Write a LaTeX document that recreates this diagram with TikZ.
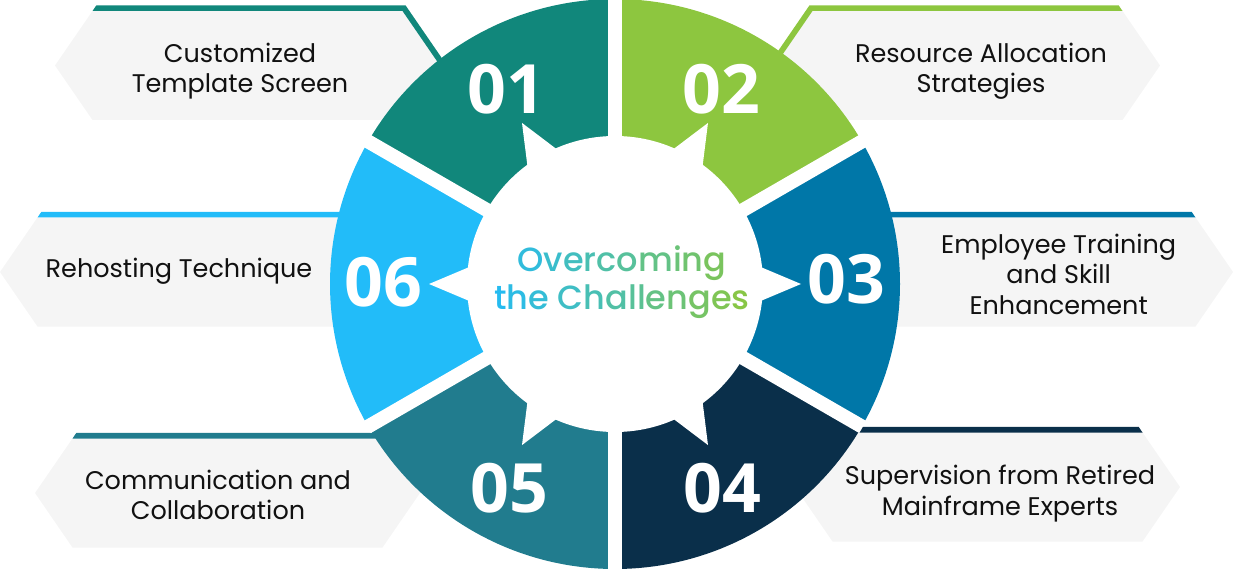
\documentclass[tikz,border=0pt]{standalone}
\usepackage{fontspec}
\setmainfont{Poppins}
\newfontfamily\numfont{Open Sans}
\IfFontExistsTF{Poppins Medium}
  {\newfontfamily\titlefont{Poppins Medium}}
  {\newfontfamily\titlefont[FakeBold=0.5]{Poppins}}
\definecolor{cA}{HTML}{11877B}
\definecolor{cB}{HTML}{8DC63F}
\definecolor{cC}{HTML}{0077A8}
\definecolor{cD}{HTML}{0A2F4A}
\definecolor{cE}{HTML}{217C8E}
\definecolor{cF}{HTML}{22BCF9}
\definecolor{boxgray}{HTML}{F5F5F5}
\definecolor{gstart}{HTML}{22BBF6}
\definecolor{gend}{HTML}{8CC63F}
\definecolor{txt}{HTML}{111111}
\newcommand\gc[2]{\textcolor{gend!#1!gstart}{#2}}
\newcommand\hexbox[2]{\fill[boxgray] (#1,#2) -- ++(37.5,-54.5) -- ++(310,0) -- ++(37.5,54.5) -- ++(-37.5,54.5) -- ++(-310,0) -- cycle;}
\tikzset{
  labeltext/.style={align=center, text=txt, font=\fontsize{25.5}{30.3}\selectfont, inner sep=0pt},
  numtext/.style={text=white, font=\numfont\bfseries\fontsize{68}{70}\selectfont, inner sep=0pt},
  gapline/.style={white, line width=14}
}
\begin{document}
\begin{tikzpicture}[x=1pt,y=-1pt]
\useasboundingbox (0,0) rectangle (1233,569);
\coordinate (c) at (615,284);
% label boxes
\hexbox{55}{65.5}
\hexbox{775}{65.5}
\hexbox{848}{272}
\hexbox{795}{487}
\hexbox{35}{493}
\hexbox{0}{272}
% coloured top lines
\fill[cA] (92.5,11) -- (96.4,5.3) -- (405.5,5.3) -- (448.6,68) -- (445.6,73.7) -- (402.5,11) -- cycle;
\fill[cB] (1122.5,11) -- (1118.6,5.3) -- (809.5,5.3) -- (766.4,68) -- (769.4,73.7) -- (812.5,11) -- cycle;
\fill[cC] (880,217.5) -- (880,211.8) -- (1191.6,211.8) -- (1195.5,217.5) -- cycle;
\fill[cD] (840,432.5) -- (840,426.8) -- (1138.6,426.8) -- (1142.5,432.5) -- cycle;
\fill[cE] (76.4,432.8) -- (72.5,438.5) -- (385,438.5) -- (385,432.8) -- cycle;
\fill[cF] (41.4,211.8) -- (37.5,217.5) -- (350,217.5) -- (350,211.8) -- cycle;
% ring segments
\fill[cA] (c) -- +(-150:285) arc[start angle=-150, end angle=-90, radius=285] -- cycle;
\fill[cB] (c) -- +(-90:285) arc[start angle=-90, end angle=-30, radius=285] -- cycle;
\fill[cC] (c) -- +(-30:285) arc[start angle=-30, end angle=30, radius=285] -- cycle;
\fill[cD] (c) -- +(30:285) arc[start angle=30, end angle=90, radius=285] -- cycle;
\fill[cE] (c) -- +(90:285) arc[start angle=90, end angle=150, radius=285] -- cycle;
\fill[cF] (c) -- +(150:285) arc[start angle=150, end angle=210, radius=285] -- cycle;
\foreach \a in {-150,-90,-30,30,90,150} \draw[gapline] (c) -- +(\a:286);
% white centre with pointers
\fill[white] (c) circle[radius=148];
\foreach \a in {0,60,120,180,240,300}
  \fill[white, shift={(c)}] (\a-6.8:146) -- (\a:186) -- (\a+6.8:146) -- cycle;
% numbers
\node[numtext] (n1) at (506.3,88.7) {01};
\node[numtext] (n2) at (721.7,88.7) {02};
\node[numtext] (n3) at (846,279.5) {03};
\node[numtext] (n4) at (722,488.3) {04};
\node[numtext] (n5) at (509,488.3) {05};
\node[numtext] (n6) at (383.3,282.5) {06};
% labels
\node[labeltext] (t1) at (240,71.4) {Customized\\Template Screen};
\node[labeltext] (t2) at (981,70.9) {Resource Allocation\\Strategies};
\node[labeltext] (t3) at (1058.7,274.3) {Employee Training\\and Skill\\Enhancement};
\node[labeltext] (t4) at (1000,493.7) {Supervision from Retired\\Mainframe Experts};
\node[labeltext] (t5) at (218,495) {Communication and\\Collaboration};
\node[labeltext] (t6) at (179,271.7) {Rehosting Technique};
% title
\node[align=center, inner sep=0pt, font=\titlefont\fontsize{33.5}{37.3}\selectfont] (title) at (622,282.1)
 {\gc{14}{O}\gc{23}{v}\gc{30}{e}\gc{37}{r}\gc{43}{c}\gc{50}{o}\gc{61}{m}\gc{69}{i}\gc{74}{n}\gc{83}{g}\\
  \gc{3}{t}\gc{10}{h}\gc{17}{e} \gc{27}{C}\gc{36}{h}\gc{44}{a}\gc{51}{l}\gc{54}{l}\gc{62}{e}\gc{70}{n}\gc{79}{g}\gc{88}{e}\gc{96}{s}};
\end{tikzpicture}
\end{document}
